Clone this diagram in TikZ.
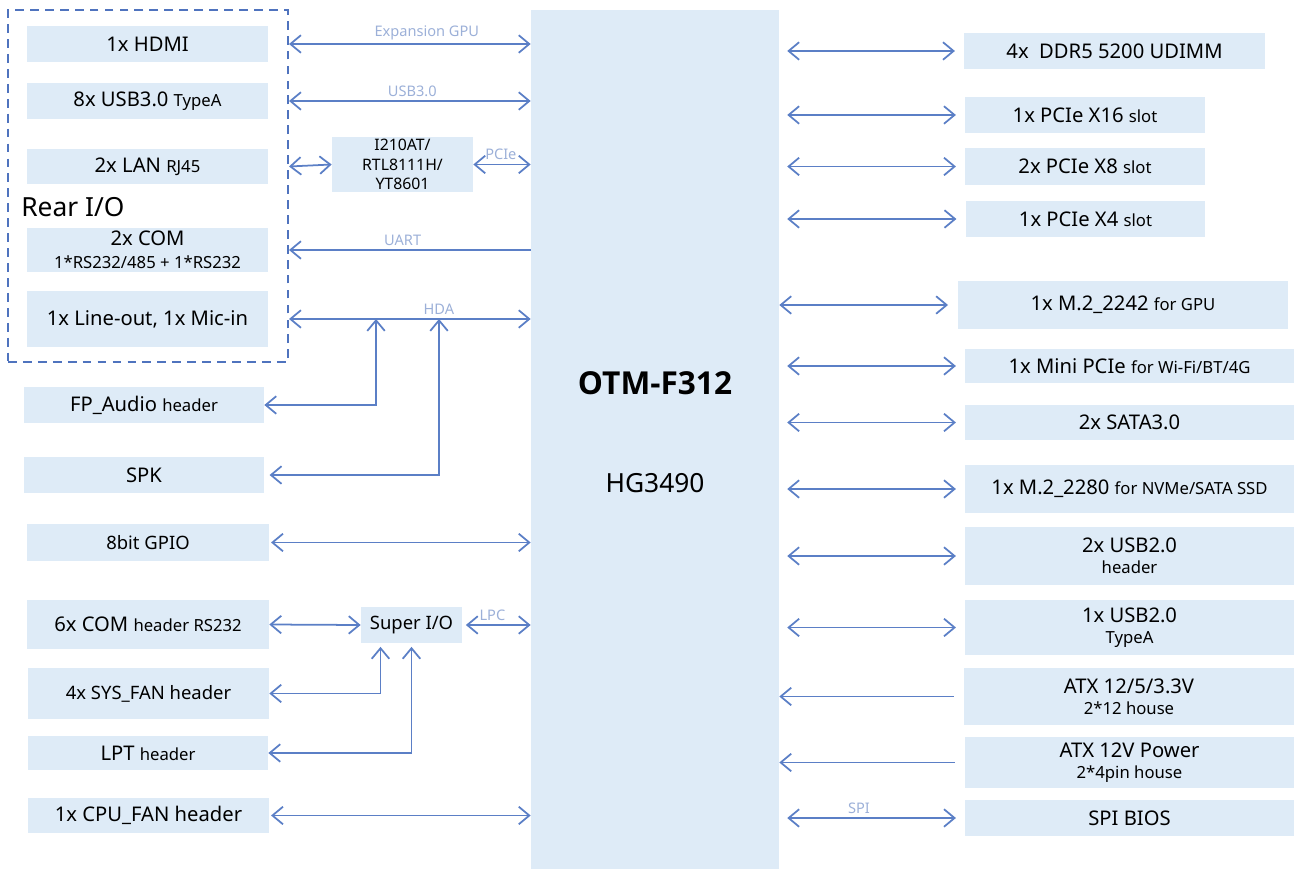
\documentclass[tikz,border=0pt]{standalone}
\usepackage{fontspec}
\setmainfont{Noto Sans}
\newfontfamily\chipfont{Open Sans}
\usepackage{tikz}
\usetikzlibrary{positioning}
\usetikzlibrary{arrows.meta}
\usepackage{xcolor}
\definecolor{boxblue}{HTML}{DEEBF7}
\definecolor{linkblue}{HTML}{5B7FC6}
\definecolor{lblblue}{HTML}{9CB0D8}
\definecolor{rearblue}{HTML}{4F73BE}
\newcommand{\mainsz}{\fontsize{11.5}{14}\selectfont}
\newcommand{\subsz}{\fontsize{9.5}{12}\selectfont}
\newcommand{\lblsz}{\fontsize{8.3}{10}\selectfont}

\begin{document}
\begin{tikzpicture}[x=0.02cm,y=-0.02cm,
    buslabel/.style={above,inner sep=2pt,font=\lblsz,text=lblblue},
    gap/.style={shorten <=4.5pt,shorten >=5pt}]
          \useasboundingbox (0,0) rectangle (1297,871);
          \node[fill=boxblue,minimum width=4.96cm,minimum height=17.18cm,inner sep=0] (chip) at (655,439.5) {};
          \node[font=\chipfont\bfseries\fontsize{18}{22}\selectfont] (chipname) at (655,383) {OTM-F312};
          \node[font=\fontsize{15}{18}\selectfont] (soc) at (655,483) {HG3490};
          \node[draw=rearblue,line width=1.2pt,dash pattern=on 5pt off 3.5pt,minimum width=5.6cm,minimum height=7.04cm,inner sep=0] (rear) at (148,186) {};
          \node[anchor=west,inner sep=0,font=\fontsize{15}{18}\selectfont] (reartitle) at (21,207) {Rear I/O};
          \begin{scope}[every node/.style={rectangle,fill=boxblue,inner sep=0,align=center,font=\mainsz,minimum width=4.82cm,minimum height=0.72cm}]
            \node (hdmi) at (147.5,44) {1x HDMI};
            \node (usb3) at (147.5,101) {8x USB3.0 {\subsz TypeA}};
            \node[minimum height=0.7cm] (lan) at (147.5,166.5) {2x LAN {\subsz RJ45}};
            \node[minimum height=0.88cm] (com) at (147.5,250) {2x COM\\[-1pt]{\subsz 1*RS232/485 + 1*RS232}};
            \node[minimum height=1.12cm] (audio) at (147.5,319) {1x Line-out, 1x Mic-in};
            \node[minimum width=4.8cm] (fpaudio) at (144,405) {FP\_Audio {\subsz header}};
            \node[minimum width=4.8cm] (spk) at (144,475) {SPK};
            \node[minimum width=4.84cm,minimum height=0.74cm,font=\fontsize{10.5}{13}\selectfont] (gpio) at (148,542.5) {8bit GPIO};
            \node[minimum width=4.84cm,minimum height=0.98cm] (comhdr) at (148,624.5) {6x COM {\subsz header RS232}};
            \node[minimum height=1.02cm,font=\fontsize{10.5}{13}\selectfont] (sysfan) at (148.5,693.5) {4x SYS\_FAN header};
            \node[minimum width=4.8cm,minimum height=0.68cm] (lpt) at (148,753) {LPT {\subsz header}};
            \node[minimum height=0.7cm] (cpufan) at (148.5,815.5) {1x CPU\_FAN header};
            \node[minimum width=2.82cm,minimum height=1.1cm,font=\fontsize{9}{11}\selectfont] (lanchip) at (402.5,164.5) {I210AT/\\RTL8111H/\\YT8601};
            \node[minimum width=2.02cm,font=\fontsize{10.5}{13}\selectfont] (sio) at (411.5,625) {Super I/O};
            \node[minimum width=6.02cm] (ddr) at (1114.5,51) {4x\ \ DDR5 5200 UDIMM};
            \node[minimum width=4.8cm] (pcie16) at (1085,115) {1x PCIe X16 {\subsz slot}};
            \node[minimum width=4.8cm,minimum height=0.74cm] (pcie8) at (1085,166.5) {2x PCIe X8 {\subsz slot}};
            \node[minimum width=4.8cm] (pcie4) at (1085.5,219) {1x PCIe X4 {\subsz slot}};
            \node[minimum width=6.6cm,minimum height=0.96cm] (m2gpu) at (1123,305) {1x M.2\_2242 {\subsz for GPU}};
            \node[minimum width=6.58cm,minimum height=0.68cm] (minipcie) at (1129.5,366) {1x Mini PCIe {\subsz for Wi-Fi/BT/4G}};
            \node[minimum width=6.58cm,minimum height=0.7cm] (sata) at (1129.5,422.5) {2x SATA3.0};
            \node[minimum width=6.58cm,minimum height=0.96cm] (m2ssd) at (1129.5,489) {1x M.2\_2280 {\subsz for NVMe/SATA SSD}};
            \node[minimum width=6.58cm,minimum height=1.16cm] (usb2h) at (1129.5,556) {2x USB2.0\\[-2pt]{\subsz header}};
            \node[minimum width=6.58cm,minimum height=1.1cm] (usb2a) at (1129.5,627.5) {1x USB2.0\\[-2pt]{\subsz TypeA}};
            \node[minimum width=6.6cm,minimum height=1.14cm] (atx) at (1129,696.5) {ATX 12/5/3.3V\\[-2pt]{\subsz 2*12 house}};
            \node[minimum width=6.58cm,minimum height=1.02cm] (atx12) at (1129.5,762.5) {ATX 12V Power\\[-2pt]{\subsz 2*4pin house}};
            \node[minimum width=6.58cm] (spibios) at (1129.5,818) {SPI BIOS};
          \end{scope}
          \begin{scope}[every path/.style={<->},>={Straight Barb[length=6pt,width=10pt]},draw=linkblue,line width=1pt]
            \coordinate (hdaA) at (376,319);
            \coordinate (hdaB) at (439,319);
            \draw (rear.east |- hdmi) -- node[buslabel,pos=0.57]{Expansion GPU} (chip.west |- hdmi);
            \draw (rear.east |- usb3) -- node[buslabel,pos=0.51]{USB3.0} (chip.west |- usb3);
            \draw (rear.east |- lan) -- (lanchip.west);
            \draw (lanchip.east) -- node[buslabel,pos=0.48]{PCIe} (chip.west |- lanchip);
            \draw[<-] (rear.east |- com) -- node[buslabel,pos=0.47]{UART} (chip.west |- com);
            \draw (rear.east |- audio) -- node[buslabel,pos=0.62]{HDA} (chip.west |- audio);
            \draw (fpaudio.east) -| (hdaA);
            \draw[shorten <=3pt] (spk.east) -| (hdaB);
            \draw[shorten <=1pt] (gpio.east) -- (chip.west |- gpio);
            \draw (comhdr.east) -- (sio.west);
            \draw[shorten <=2pt] (sio.east) -- node[buslabel,pos=0.44]{LPC} (chip.west |- sio);
            \draw[shorten >=2pt] (sysfan.east) -| ([xshift=-0.62cm]sio.south);
            \draw[shorten >=2pt] (lpt.east) -| (sio.south);
            \draw[shorten <=1pt] (cpufan.east) -- (chip.west |- cpufan);
            \draw[gap] (chip.east |- ddr) -- (ddr.west);
            \draw[gap] (chip.east |- pcie16) -- (pcie16.west);
            \draw[gap] (chip.east |- pcie8) -- (pcie8.west);
            \draw[gap] (chip.east |- pcie4) -- (pcie4.west);
            \draw[shorten >=5.5pt] (chip.east |- m2gpu) -- (m2gpu.west);
            \draw[gap] (chip.east |- minipcie) -- (minipcie.west);
            \draw[gap] (chip.east |- sata) -- (sata.west);
            \draw[gap] (chip.east |- m2ssd) -- (m2ssd.west);
            \draw[gap] (chip.east |- usb2h) -- (usb2h.west);
            \draw[gap] (chip.east |- usb2a) -- (usb2a.west);
            \draw[<-,shorten >=5.5pt] (chip.east |- atx) -- (atx.west);
            \draw[<-,shorten >=5.5pt] (chip.east |- atx12) -- (atx12.west);
            \draw[gap] (chip.east |- spibios) -- node[buslabel,pos=0.43]{SPI} (spibios.west);
          \end{scope}
        \end{tikzpicture}
\end{document}
